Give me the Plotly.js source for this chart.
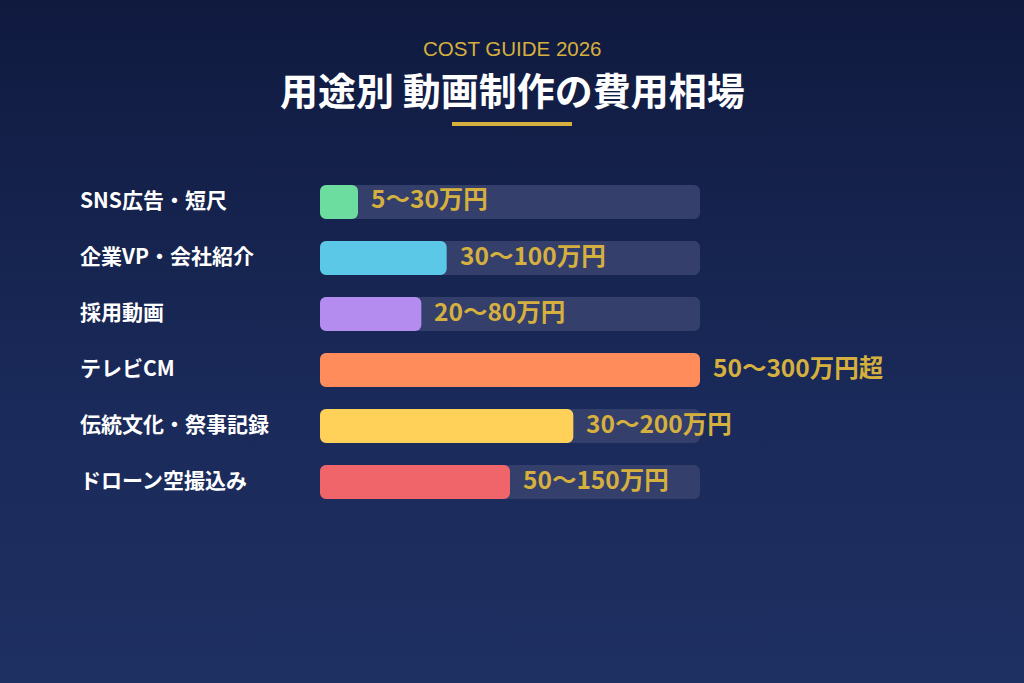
<!DOCTYPE html>
<html>
<head>
<meta charset="utf-8">
<script src="https://cdn.plot.ly/plotly-3.0.1.min.js"></script>
<style>
  html, body { margin: 0; padding: 0; }
  body {
    width: 1024px; height: 683px; overflow: hidden;
    background: linear-gradient(180deg, #101a3f 0%, #1a2a5a 60%, #1e2f61 100%);
  }
  #plot { width: 1024px; height: 683px; }
</style>
</head>
<body>
<div id="plot"></div>
<script>
var categories = ["SNS広告・短尺", "企業VP・会社紹介", "採用動画", "テレビCM", "伝統文化・祭事記録", "ドローン空撮込み"];
var upper_values = [30, 100, 80, 300, 200, 150];
var range_labels = ["5〜30万円", "30〜100万円", "20〜80万円", "50〜300万円超", "30〜200万円", "50〜150万円"];
var bar_colors = ["#6ddc9f", "#5bc8e8", "#b48cf0", "#ff8c5a", "#ffd159", "#f0656a"];
var max_value = 300;

var jpFont = '"Noto Sans CJK JP", "Noto Sans", sans-serif';
var gold = "#d6b03e";

// plotly only rounds the far end of a bar, so each bar is two overlapping
// pieces: one grown back to 0, one grown out to the value
function piece(values, colors, toStart){
    return {
        type: "bar",
        orientation: "h",
        y: categories,
        base: values.map(function(v){ return toStart ? v*0.75 : v*0.25; }),
        x: values.map(function(v){ return toStart ? -v*0.75 : v*0.75; }),
        width: 0.61,
        marker: { color: colors, cornerradius: 6, line: { width: 0 } },
        hoverinfo: "skip",
        showlegend: false
    };
}
var track_values = categories.map(function(){ return max_value; });
var traces = [
    piece(track_values, "#343f6c", true),
    piece(track_values, "#343f6c", false),
    piece(upper_values, bar_colors, true),
    piece(upper_values, bar_colors, false)
];

var annotations = [];
for (var i = 0; i < categories.length; i++){
    annotations.push({
        x: 78/1024, xref: "paper", xanchor: "left",
        y: categories[i], yref: "y", yanchor: "middle", yshift: 3,
        text: "<b>" + categories[i] + "</b>",
        showarrow: false,
        font: { family: jpFont, size: 21, color: "#ffffff" }
    });
    annotations.push({
        x: upper_values[i], xref: "x", xanchor: "left", xshift: 11,
        y: categories[i], yref: "y", yanchor: "middle", yshift: 4,
        text: "<b>" + range_labels[i] + "</b>",
        showarrow: false,
        font: { family: jpFont, size: 24.5, color: gold }
    });
}
annotations.push({
    x: 0.5, xref: "paper", y: 1 - 48/683, yref: "paper", yanchor: "middle",
    text: "COST GUIDE 2026", showarrow: false,
    font: { family: '"Liberation Sans", Arial, sans-serif', size: 20.5, color: gold }
});
annotations.push({
    x: 0.5, xref: "paper", y: 1 - 88/683, yref: "paper", yanchor: "middle",
    text: "<b>用途別 動画制作の費用相場</b>", showarrow: false,
    font: { family: jpFont, size: 38, color: "#ffffff" }
});

var layout = {
    width: 1024,
    height: 683,
    paper_bgcolor: "rgba(0,0,0,0)",
    plot_bgcolor: "rgba(0,0,0,0)",
    margin: { l: 0, r: 0, t: 0, b: 0 },
    barmode: "overlay",
    xaxis: {
        domain: [320/1024, 700/1024],
        range: [0, max_value],
        visible: false,
        fixedrange: true
    },
    yaxis: {
        domain: [(683-510)/683, (683-174)/683],
        categoryorder: "array",
        categoryarray: categories,
        autorange: "reversed",
        visible: false,
        fixedrange: true
    },
    shapes: [{
        type: "line", xref: "paper", yref: "paper",
        x0: 452/1024, x1: 572/1024, y0: 1 - 124/683, y1: 1 - 124/683,
        line: { color: gold, width: 4 }
    }],
    annotations: annotations
};

Plotly.newPlot("plot", traces, layout, { displayModeBar: false, staticPlot: true });
</script>
</body>
</html>
